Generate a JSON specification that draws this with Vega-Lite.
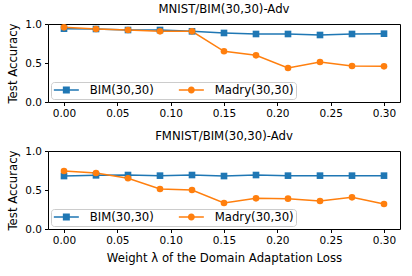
{
  "$schema": "https://vega.github.io/schema/vega-lite/v6.json",
  "padding": {"left": 7, "top": 3, "right": 5, "bottom": 5},
  "config": {
    "font": "DejaVu Sans",
    "view": {"stroke": "black", "strokeWidth": 1},
    "axis": {
      "domain": false, "grid": false, "tickColor": "black", "tickSize": 3.5, "tickWidth": 1,
      "labelColor": "black", "labelFontSize": 10.5, "labelPadding": 3,
      "titleColor": "black", "titleFontSize": 11.7, "titleFontWeight": "normal"
    },
    "title": {"fontSize": 11.7, "fontWeight": "normal", "color": "black", "offset": 3},
    "legend": {
      "orient": "bottom-left", "offset": 3, "direction": "horizontal", "title": null,
      "labelFontSize": 11.7, "labelColor": "black", "symbolSize": 100, "labelOffset": 25,
      "columnPadding": 24, "padding": 2, "strokeColor": "#cccccc", "fillColor": "rgba(255,255,255,0.8)",
      "cornerRadius": 3, "symbolOpacity": 1, "symbolStrokeWidth": 0
    }
  },
  "datasets": {
    "acc": [
      {"panel": "top", "series": "BIM(30,30)", "lambda": 0.00, "acc": 0.940},
      {"panel": "top", "series": "BIM(30,30)", "lambda": 0.03, "acc": 0.936},
      {"panel": "top", "series": "BIM(30,30)", "lambda": 0.06, "acc": 0.923},
      {"panel": "top", "series": "BIM(30,30)", "lambda": 0.09, "acc": 0.923},
      {"panel": "top", "series": "BIM(30,30)", "lambda": 0.12, "acc": 0.906},
      {"panel": "top", "series": "BIM(30,30)", "lambda": 0.15, "acc": 0.885},
      {"panel": "top", "series": "BIM(30,30)", "lambda": 0.18, "acc": 0.872},
      {"panel": "top", "series": "BIM(30,30)", "lambda": 0.21, "acc": 0.872},
      {"panel": "top", "series": "BIM(30,30)", "lambda": 0.24, "acc": 0.859},
      {"panel": "top", "series": "BIM(30,30)", "lambda": 0.27, "acc": 0.872},
      {"panel": "top", "series": "BIM(30,30)", "lambda": 0.30, "acc": 0.876},
      {"panel": "top", "series": "Madry(30,30)", "lambda": 0.00, "acc": 0.957},
      {"panel": "top", "series": "Madry(30,30)", "lambda": 0.03, "acc": 0.936},
      {"panel": "top", "series": "Madry(30,30)", "lambda": 0.06, "acc": 0.923},
      {"panel": "top", "series": "Madry(30,30)", "lambda": 0.09, "acc": 0.906},
      {"panel": "top", "series": "Madry(30,30)", "lambda": 0.12, "acc": 0.906},
      {"panel": "top", "series": "Madry(30,30)", "lambda": 0.15, "acc": 0.650},
      {"panel": "top", "series": "Madry(30,30)", "lambda": 0.18, "acc": 0.598},
      {"panel": "top", "series": "Madry(30,30)", "lambda": 0.21, "acc": 0.436},
      {"panel": "top", "series": "Madry(30,30)", "lambda": 0.24, "acc": 0.513},
      {"panel": "top", "series": "Madry(30,30)", "lambda": 0.27, "acc": 0.462},
      {"panel": "top", "series": "Madry(30,30)", "lambda": 0.30, "acc": 0.457},
      {"panel": "bottom", "series": "BIM(30,30)", "lambda": 0.00, "acc": 0.679},
      {"panel": "bottom", "series": "BIM(30,30)", "lambda": 0.03, "acc": 0.688},
      {"panel": "bottom", "series": "BIM(30,30)", "lambda": 0.06, "acc": 0.692},
      {"panel": "bottom", "series": "BIM(30,30)", "lambda": 0.09, "acc": 0.684},
      {"panel": "bottom", "series": "BIM(30,30)", "lambda": 0.12, "acc": 0.692},
      {"panel": "bottom", "series": "BIM(30,30)", "lambda": 0.15, "acc": 0.679},
      {"panel": "bottom", "series": "BIM(30,30)", "lambda": 0.18, "acc": 0.692},
      {"panel": "bottom", "series": "BIM(30,30)", "lambda": 0.21, "acc": 0.684},
      {"panel": "bottom", "series": "BIM(30,30)", "lambda": 0.24, "acc": 0.684},
      {"panel": "bottom", "series": "BIM(30,30)", "lambda": 0.27, "acc": 0.684},
      {"panel": "bottom", "series": "BIM(30,30)", "lambda": 0.30, "acc": 0.684},
      {"panel": "bottom", "series": "Madry(30,30)", "lambda": 0.00, "acc": 0.744},
      {"panel": "bottom", "series": "Madry(30,30)", "lambda": 0.03, "acc": 0.718},
      {"panel": "bottom", "series": "Madry(30,30)", "lambda": 0.06, "acc": 0.650},
      {"panel": "bottom", "series": "Madry(30,30)", "lambda": 0.09, "acc": 0.513},
      {"panel": "bottom", "series": "Madry(30,30)", "lambda": 0.12, "acc": 0.500},
      {"panel": "bottom", "series": "Madry(30,30)", "lambda": 0.15, "acc": 0.333},
      {"panel": "bottom", "series": "Madry(30,30)", "lambda": 0.18, "acc": 0.393},
      {"panel": "bottom", "series": "Madry(30,30)", "lambda": 0.21, "acc": 0.389},
      {"panel": "bottom", "series": "Madry(30,30)", "lambda": 0.24, "acc": 0.359},
      {"panel": "bottom", "series": "Madry(30,30)", "lambda": 0.27, "acc": 0.406},
      {"panel": "bottom", "series": "Madry(30,30)", "lambda": 0.30, "acc": 0.321}
    ]
  },
  "spacing": 10,
  "resolve": {"scale": {"color": "independent", "shape": "independent"}, "legend": {"color": "independent", "shape": "independent"}},
  "vconcat": [
    {
      "width": 352, "height": 78,
      "title": "MNIST/BIM(30,30)-Adv",
      "data": {"name": "acc"},
      "transform": [{"filter": "datum.panel === 'top'"}],
      "encoding": {
        "x": {"field": "lambda", "type": "quantitative", "scale": {"domain": [-0.015, 0.315], "nice": false, "zero": false},
              "axis": {"values": [0, 0.05, 0.1, 0.15, 0.2, 0.25, 0.3], "format": ".2f", "title": null}},
        "y": {"field": "acc", "type": "quantitative", "scale": {"domain": [0, 1]},
              "axis": {"values": [0, 0.5, 1], "format": ".1f", "title": "Test Accuracy", "titlePadding": 6}},
        "color": {"field": "series", "type": "nominal",
                  "scale": {"domain": ["BIM(30,30)", "Madry(30,30)"], "range": ["#1f77b4", "#ff7f0e"]}}
      },
      "layer": [
        {"mark": {"type": "line", "strokeWidth": 1.5}},
        {"transform": [{"filter": "datum.series === 'BIM(30,30)'"}],
         "mark": {"type": "point", "filled": true, "opacity": 1, "size": 44, "shape": "square"}},
        {"transform": [{"filter": "datum.series === 'Madry(30,30)'"}],
         "mark": {"type": "point", "filled": true, "opacity": 1, "size": 44, "shape": "circle"}},
        {"mark": {"type": "point", "filled": true, "opacity": 0},
         "encoding": {"shape": {"field": "series", "type": "nominal",
                      "scale": {"domain": ["BIM(30,30)", "Madry(30,30)"], "range": ["M-1,-0.15H0.8V-0.7H2.2V-0.15H4V0.15H2.2V0.7H0.8V0.15H-1Z", "M-1,-0.15H0.9V0.15H-1Z M2.1,-0.15H4V0.15H2.1Z M0.8,0A0.7,0.7 0 1,1 2.2,0A0.7,0.7 0 1,1 0.8,0Z"]}}}}
      ]
    },
    {
      "width": 352, "height": 78,
      "title": "FMNIST/BIM(30,30)-Adv",
      "data": {"name": "acc"},
      "transform": [{"filter": "datum.panel === 'bottom'"}],
      "encoding": {
        "x": {"field": "lambda", "type": "quantitative", "scale": {"domain": [-0.015, 0.315], "nice": false, "zero": false},
              "axis": {"values": [0, 0.05, 0.1, 0.15, 0.2, 0.25, 0.3], "format": ".2f", "title": "Weight λ of the Domain Adaptation Loss", "titlePadding": 6}},
        "y": {"field": "acc", "type": "quantitative", "scale": {"domain": [0, 1]},
              "axis": {"values": [0, 0.5, 1], "format": ".1f", "title": "Test Accuracy", "titlePadding": 6}},
        "color": {"field": "series", "type": "nominal",
                  "scale": {"domain": ["BIM(30,30)", "Madry(30,30)"], "range": ["#1f77b4", "#ff7f0e"]}}
      },
      "layer": [
        {"mark": {"type": "line", "strokeWidth": 1.5}},
        {"transform": [{"filter": "datum.series === 'BIM(30,30)'"}],
         "mark": {"type": "point", "filled": true, "opacity": 1, "size": 44, "shape": "square"}},
        {"transform": [{"filter": "datum.series === 'Madry(30,30)'"}],
         "mark": {"type": "point", "filled": true, "opacity": 1, "size": 44, "shape": "circle"}},
        {"mark": {"type": "point", "filled": true, "opacity": 0},
         "encoding": {"shape": {"field": "series", "type": "nominal",
                      "scale": {"domain": ["BIM(30,30)", "Madry(30,30)"], "range": ["M-1,-0.15H0.8V-0.7H2.2V-0.15H4V0.15H2.2V0.7H0.8V0.15H-1Z", "M-1,-0.15H0.9V0.15H-1Z M2.1,-0.15H4V0.15H2.1Z M0.8,0A0.7,0.7 0 1,1 2.2,0A0.7,0.7 0 1,1 0.8,0Z"]}}}}
      ]
    }
  ]
}
